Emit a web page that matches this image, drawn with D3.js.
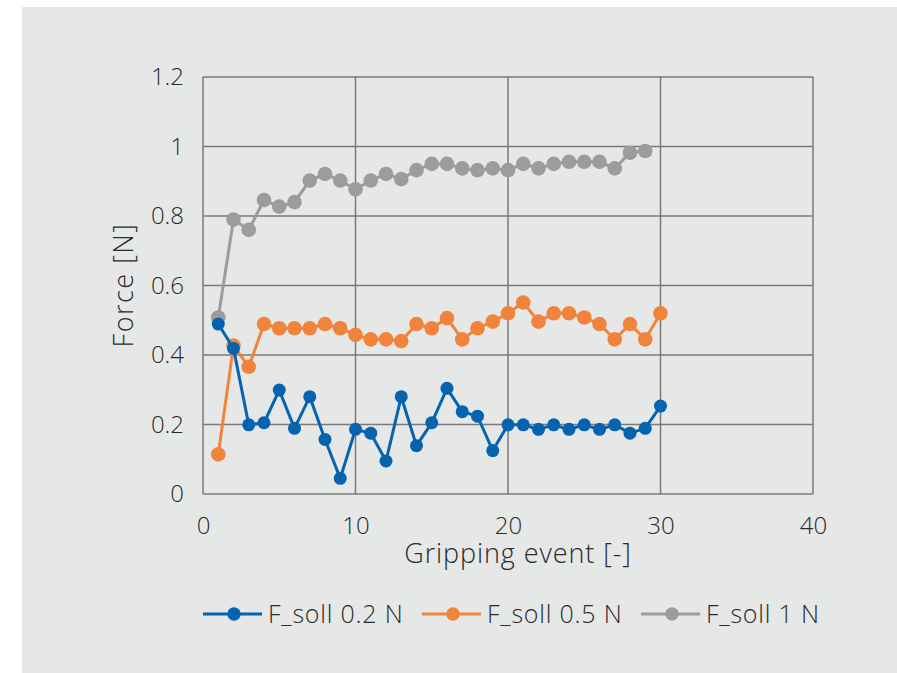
<!DOCTYPE html>
<html>
<head>
<meta charset="utf-8">
<script src="https://cdn.jsdelivr.net/npm/d3@7"></script>
<style>
  body { margin: 0; background: #fff; }
  svg text { font-family: "Open Sans", Lato, sans-serif; font-weight: 300; fill: #2b2b2b; }
</style>
</head>
<body>
<svg id="chart" width="897" height="673"></svg>
<script>
const events = d3.range(1, 31);
const soll02 = [0.489, 0.419, 0.199, 0.205, 0.299, 0.189, 0.280, 0.157, 0.045, 0.186,
                0.175, 0.095, 0.280, 0.139, 0.205, 0.304, 0.237, 0.224, 0.125, 0.199,
                0.199, 0.186, 0.199, 0.186, 0.199, 0.186, 0.199, 0.175, 0.189, 0.253];
const soll05 = [0.114, 0.427, 0.366, 0.489, 0.477, 0.477, 0.477, 0.489, 0.477, 0.458,
                0.445, 0.445, 0.440, 0.489, 0.477, 0.506, 0.445, 0.477, 0.496, 0.520,
                0.551, 0.496, 0.520, 0.520, 0.508, 0.489, 0.445, 0.489, 0.445, 0.520];
const soll1 = [0.508, 0.790, 0.760, 0.846, 0.827, 0.840, 0.902, 0.921, 0.902, 0.877,
               0.902, 0.921, 0.906, 0.932, 0.950, 0.950, 0.937, 0.932, 0.937, 0.932,
               0.950, 0.937, 0.950, 0.956, 0.956, 0.956, 0.937, 0.982, 0.987];
const xTicks = [0, 10, 20, 30, 40];
const yTicks = [0, 0.2, 0.4, 0.6, 0.8, 1, 1.2];
const seriesNames = ["F_soll 0.2 N", "F_soll 0.5 N", "F_soll 1 N"];
const seriesColors = ["#0563b0", "#f0843c", "#9a9c9d"];

const svg = d3.select("#chart");
svg.append("rect").attr("x", 22).attr("y", 7).attr("width", 875).attr("height", 666).attr("fill", "#e6e7e7");

const margin = {top: 77, left: 203};
const width = 610, height = 417;
const g = svg.append("g").attr("transform", `translate(${margin.left},${margin.top})`);

const x = d3.scaleLinear().domain([0, 40]).range([0, width]);
const y = d3.scaleLinear().domain([0, 1.2]).range([height, 0]);

// Grid
g.selectAll(".hgrid").data(yTicks).enter().append("line")
    .attr("x1", 0).attr("x2", width)
    .attr("y1", d => y(d)).attr("y2", d => y(d))
    .attr("stroke", "#7a7a7a").attr("stroke-width", 1.5);
g.selectAll(".vgrid").data(xTicks).enter().append("line")
    .attr("x1", d => x(d)).attr("x2", d => x(d))
    .attr("y1", 0).attr("y2", height)
    .attr("stroke", "#7a7a7a").attr("stroke-width", 1.5);

// Tick labels
const xAxis = d3.axisBottom(x).tickValues(xTicks).tickSize(0).tickPadding(0).tickFormat(d3.format("d"));
g.append("g").attr("transform", `translate(0,${height})`).call(xAxis)
    .call(a => a.select(".domain").remove())
    .selectAll("text").attr("font-size", "24px").style("font-family", null)
    .attr("y", 32).attr("dy", "0.35em");
const yAxis = d3.axisLeft(y).tickValues(yTicks).tickSize(0).tickPadding(19).tickFormat(d => d3.format("")(+d.toFixed(1)));
g.append("g").call(yAxis)
    .call(a => a.select(".domain").remove())
    .selectAll("text").attr("font-size", "24px").style("font-family", null);

svg.append("text").attr("x", 518).attr("y", 563).attr("text-anchor", "middle")
    .attr("font-size", "27px").attr("letter-spacing", "0.9px").text("Gripping event [-]");
svg.append("text").attr("transform", "translate(133,285) rotate(-90)").attr("text-anchor", "middle")
    .attr("font-size", "27px").attr("letter-spacing", "1.5px").text("Force [N]");

// Series
const allSeries = [soll02, soll05, soll1];
const line = d3.line().x((d, i) => x(events[i])).y(d => y(d));
[2, 1, 0].forEach(s => {
    const data = allSeries[s];
    const sg = g.append("g");
    sg.append("path").datum(data).attr("d", line)
        .attr("fill", "none").attr("stroke", seriesColors[s]).attr("stroke-width", 3);
    sg.selectAll("circle").data(data).enter().append("circle")
        .attr("cx", (d, i) => x(events[i])).attr("cy", d => y(d))
        .attr("r", s === 0 ? 6.5 : 7.3).attr("fill", seriesColors[s]);
});

// Legend
const legendX = [203, 422, 641];
seriesNames.forEach((name, i) => {
    const lg = svg.append("g").attr("transform", `translate(${legendX[i]},614)`);
    lg.append("line").attr("x1", 0).attr("x2", 59).attr("y1", 0).attr("y2", 0)
        .attr("stroke", seriesColors[i]).attr("stroke-width", 3);
    lg.append("circle").attr("cx", 31).attr("cy", 0).attr("r", 6.7).attr("fill", seriesColors[i]);
    lg.append("text").attr("x", 65).attr("y", 0).attr("dy", "0.36em")
        .attr("font-size", "25px").attr("letter-spacing", "0.8px").text(name);
});
</script>
</body>
</html>
